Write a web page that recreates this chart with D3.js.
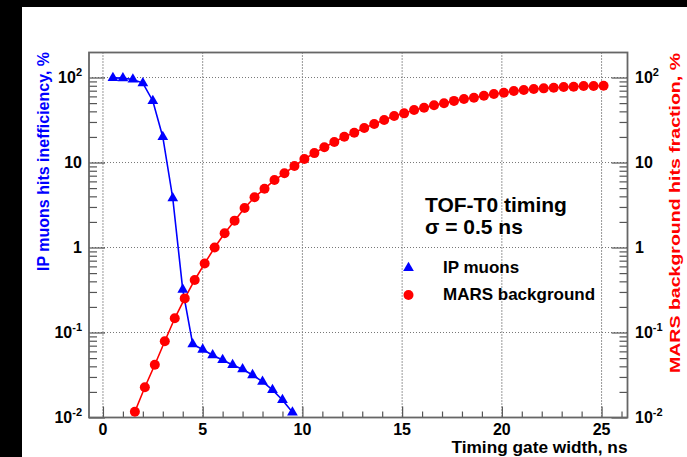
<!DOCTYPE html>
<html><head><meta charset="utf-8">
<script src="https://cdn.jsdelivr.net/npm/d3@7"></script>
<style>body{margin:0;background:#fff}svg{display:block}text{font-family:"Liberation Sans",Arial,Helvetica,sans-serif;font-weight:bold}</style>
</head><body>
<script>
// ---- data ----
const muonX = [0.5,1,1.5,2,2.5,3,3.5,4,4.5,5,5.5,6,6.5,7,7.5,8,8.5,9,9.5];
const muonY = [99,98.5,95,86,53,20,3.8,0.32,0.073,0.063,0.054,0.0475,0.0415,0.037,0.0316,0.0264,0.0211,0.0161,0.0115];
const marsX = [1.6,2.1,2.6,3.1,3.6,4.1,4.6,5.1,5.6,6.1,6.6,7.1,7.6,8.1,8.6,9.1,9.6,10.1,10.6,11.1,
  11.6,12.1,12.6,13.1,13.6,14.1,14.6,15.1,15.6,16.1,16.6,17.1,17.6,18.1,18.6,19.1,19.6,20.1,20.6,21.1,
  21.6,22.1,22.6,23.1,23.6,24.1,24.6,25.1];
const marsY = [0.0117,0.0227,0.0418,0.079,0.147,0.252,0.415,0.65,1.0,1.47,2.07,2.92,3.9,4.92,6.22,7.46,9.1,11.0,12.9,15.1,
  17.4,20.1,22.4,25.5,28.4,31.6,35.3,37.9,41.5,44.2,47.1,49.7,53.1,55.8,57.8,61.1,63.9,66.3,69.3,71.3,
  73.2,74.6,75.9,77.3,78.0,79.4,79.6,80.1];
const xTickValues = [0,5,10,15,20,25];
const yTickValues = [0.01,0.1,1,10,100];
const yTickBase = ['10','10','1','10','10'];
const yTickExp = ['-2','-1','','','2'];
const xTitle = 'Timing gate width, ns';
const yLeftTitle = 'IP muons hits inefficiency, %';
const yRightTitle = 'MARS background hits fraction, %';
const annot1 = 'TOF-T0 timing';
const annot2 = '\u03c3 = 0.5 ns';
const legendLabels = ['IP muons','MARS background'];

// ---- layout ----
const W = 687, H = 457;
const L = 89, R = 627.5, T = 52.5, B = 417.5;
const svg = d3.select('body').append('svg').attr('width', W).attr('height', H);
svg.append('rect').attr('width', W).attr('height', H).attr('fill', '#fff');
svg.append('rect').attr('x', 0).attr('y', 0).attr('width', W).attr('height', 7).attr('fill', '#000');
svg.append('rect').attr('x', 0).attr('y', 0).attr('width', 22).attr('height', H).attr('fill', '#000');

const x = d3.scaleLinear().domain([-0.7, 26.3]).range([L, R]);
const y = d3.scaleLog().domain([0.01, 197]).range([B, T]);

// grid
const grid = svg.append('g');
grid.selectAll('.vg').data(xTickValues).join('line')
  .attr('x1', d => x(d)).attr('x2', d => x(d)).attr('y1', T).attr('y2', B)
  .attr('stroke', '#333').attr('stroke-width', 1).attr('stroke-dasharray', '1,2');
grid.selectAll('.hg').data(yTickValues.filter(v => v > 0.01)).join('line')
  .attr('x1', L).attr('x2', R).attr('y1', d => y(d)).attr('y2', d => y(d))
  .attr('stroke', '#777').attr('stroke-width', 1).attr('stroke-dasharray', '1,2');

// minor y tick values
const yMinor = [];
[0.01,0.1,1,10,100].forEach(dec => { for (let k = 2; k <= 9; k++) { const v = dec*k; if (v <= 197) yMinor.push(v); } });
const xMinor = d3.range(0, 27, 1).filter(v => v % 5 !== 0);

function styleAxis(g) {
  g.select('.domain').remove();
  g.selectAll('.tick text').remove();
  g.selectAll('.tick line').attr('stroke', '#555').attr('stroke-width', 1.2);
}
svg.append('g').attr('transform', `translate(${L},0)`)
  .call(d3.axisLeft(y).tickValues(yTickValues).tickSize(-16)).call(styleAxis);
svg.append('g').attr('transform', `translate(${L},0)`)
  .call(d3.axisLeft(y).tickValues(yMinor).tickSize(-8)).call(styleAxis);
svg.append('g').attr('transform', `translate(${R},0)`)
  .call(d3.axisRight(y).tickValues(yTickValues).tickSize(-16)).call(styleAxis);
svg.append('g').attr('transform', `translate(${R},0)`)
  .call(d3.axisRight(y).tickValues(yMinor).tickSize(-8)).call(styleAxis);
svg.append('g').attr('transform', `translate(0,${B})`)
  .call(d3.axisBottom(x).tickValues(xTickValues).tickSize(-11)).call(styleAxis);
svg.append('g').attr('transform', `translate(0,${B})`)
  .call(d3.axisBottom(x).tickValues(xMinor).tickSize(-6)).call(styleAxis);

// frame
svg.append('rect').attr('x', L).attr('y', T).attr('width', R - L).attr('height', B - T)
  .attr('fill', 'none').attr('stroke', '#666').attr('stroke-width', 1.8);

// tick labels
function yLabels(xpos, anchor) {
  yTickValues.forEach((v, i) => {
    const t = svg.append('text').attr('x', xpos).attr('y', y(v) + 5.7)
      .attr('text-anchor', anchor).attr('font-size', 16).attr('fill', '#000');
    t.append('tspan').text(yTickBase[i]);
    if (yTickExp[i]) t.append('tspan').attr('dy', -7).attr('font-size', 11).text(yTickExp[i]);
  });
}
yLabels(82, 'end');
yLabels(635, 'start');
svg.selectAll('.xl').data(xTickValues).join('text')
  .attr('x', d => x(d)).attr('y', 435).attr('text-anchor', 'middle')
  .attr('font-size', 16).attr('fill', '#000').text(d => d);

// titles
svg.append('text').attr('x', R).attr('y', 453).attr('text-anchor', 'end')
  .attr('font-size', 16).attr('fill', '#000')
  .attr('textLength', 176).attr('lengthAdjust', 'spacingAndGlyphs').text(xTitle);
svg.append('text').attr('transform', 'translate(49,161.5) rotate(-90)').attr('text-anchor', 'middle')
  .attr('font-size', 16).attr('fill', '#0000ff').text(yLeftTitle);
svg.append('text').attr('transform', 'translate(680,213) rotate(-90)').attr('text-anchor', 'middle')
  .attr('font-size', 15).attr('fill', '#ff0000')
  .attr('textLength', 320).attr('lengthAdjust', 'spacingAndGlyphs').text(yRightTitle);

// data
const clip = svg.append('clipPath').attr('id', 'clip').append('rect')
  .attr('x', L).attr('y', T).attr('width', R - L).attr('height', B - T);
const plot = svg.append('g').attr('clip-path', 'url(#clip)');
const line = d3.line().x(d => x(d[0])).y(d => y(d[1]));
const muon = muonX.map((v, i) => [v, muonY[i]]);
const mars = marsX.map((v, i) => [v, marsY[i]]);
plot.append('path').datum(mars).attr('d', line).attr('fill', 'none').attr('stroke', '#ff0000').attr('stroke-width', 1.6);
plot.append('path').datum(muon).attr('d', line).attr('fill', 'none').attr('stroke', '#0000ff').attr('stroke-width', 1.6);
plot.selectAll('.c').data(mars).join('circle')
  .attr('cx', d => x(d[0])).attr('cy', d => y(d[1])).attr('r', 5).attr('fill', '#ff0000');
const tri = d3.symbol().type(d3.symbolTriangle).size(50);
plot.selectAll('.t').data(muon).join('path')
  .attr('transform', d => `translate(${x(d[0])},${y(d[1])})`).attr('d', tri).attr('fill', '#0000ff');

// annotation
svg.append('text').attr('x', 425).attr('y', 212).attr('font-size', 21).attr('fill', '#000').text(annot1);
svg.append('text').attr('x', 425).attr('y', 234).attr('font-size', 21).attr('fill', '#000').text(annot2);

// legend
svg.append('path').attr('transform', 'translate(408.5,268)').attr('d', tri).attr('fill', '#0000ff');
svg.append('circle').attr('cx', 408.5).attr('cy', 295).attr('r', 5).attr('fill', '#ff0000');
svg.append('text').attr('x', 443).attr('y', 273).attr('font-size', 17).attr('fill', '#000').text(legendLabels[0]);
svg.append('text').attr('x', 443).attr('y', 300).attr('font-size', 17).attr('fill', '#000').text(legendLabels[1]);
</script>
</body></html>
